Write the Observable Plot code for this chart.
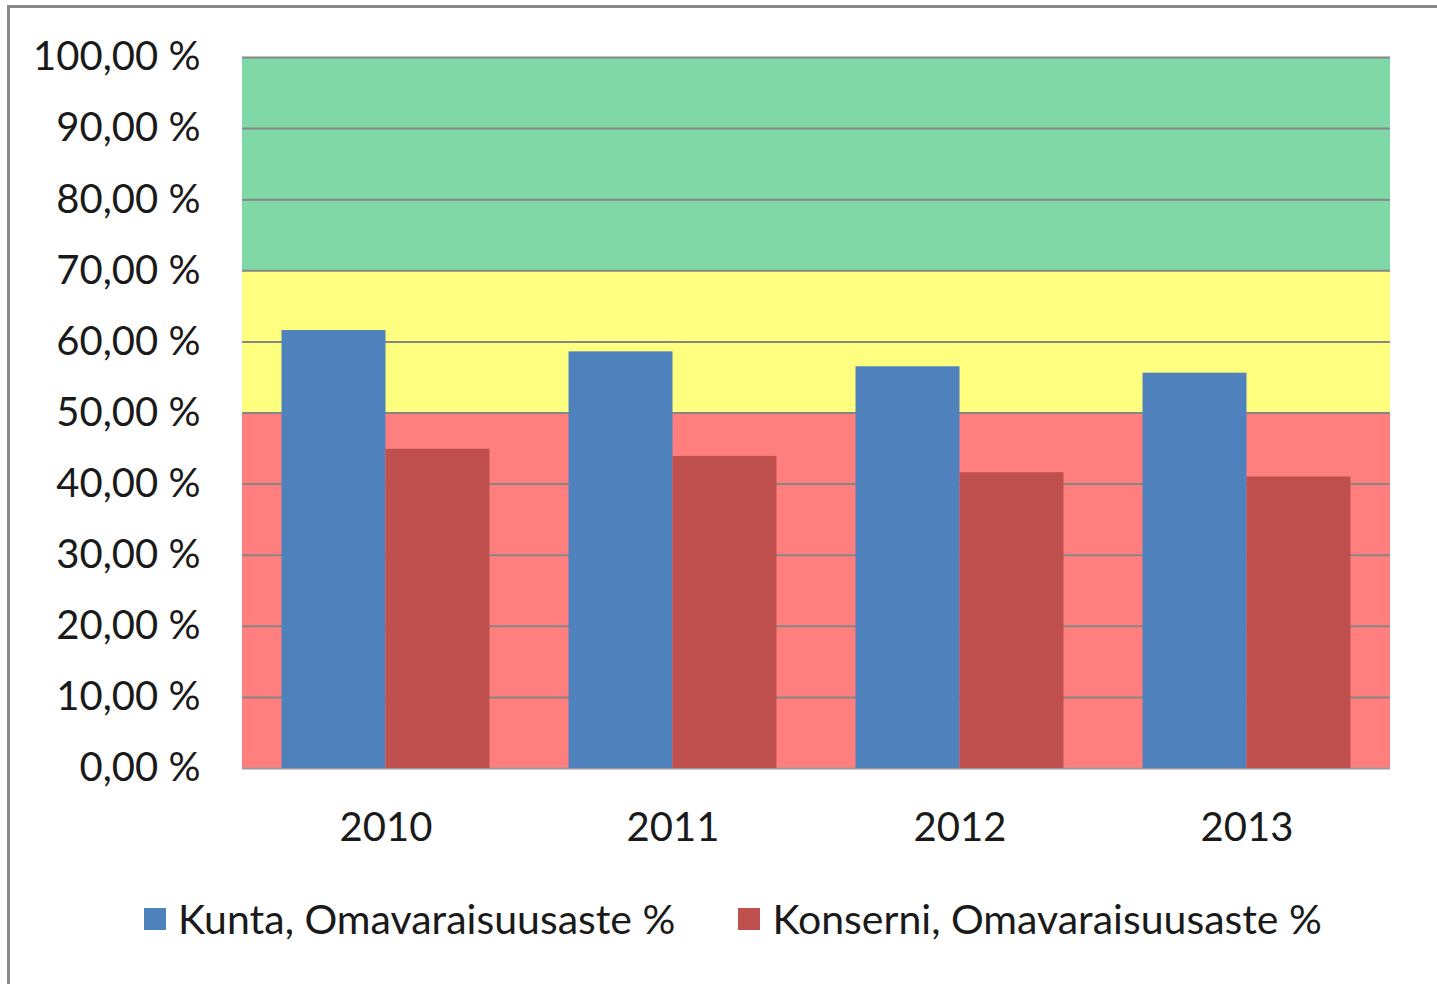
<!DOCTYPE html>
<html>
<head>
<meta charset="utf-8">
<script src="https://cdn.jsdelivr.net/npm/d3@7"></script>
<script src="https://cdn.jsdelivr.net/npm/@observablehq/plot@0.6"></script>
<style>
  html, body { margin: 0; padding: 0; background: #fff; }
  body { width: 1437px; height: 984px; position: relative; overflow: hidden; font-family: Lato, "Open Sans", sans-serif; }
  #frame { position: absolute; left: 7px; top: 5px; right: -10px; bottom: -10px; border-left: 3px solid #888; border-top: 3px solid #888; }
  #chart { position: absolute; left: 0; top: 0; }
  #legend { position: absolute; left: 144px; top: 894px; display: flex; align-items: center; font-size: 41px; color: #1a1a1a; white-space: nowrap; }
  .item { display: flex; align-items: center; margin-right: 63px; }
  .sw { width: 22px; height: 22px; margin-right: 12px; }
</style>
</head>
<body>
<div id="frame"></div>
<div id="chart"></div>
<div id="legend"></div>
<script>
const years = ["2010", "2011", "2012", "2013"];
const seriesNames = ["Kunta, Omavaraisuusaste %", "Konserni, Omavaraisuusaste %"];
const kunta = [61.6, 58.6, 56.5, 55.6];
const konserni = [44.9, 43.9, 41.6, 41.0];
const seriesColors = ["#4F81BD", "#C0504D"];
const yTicks = [0, 10, 20, 30, 40, 50, 60, 70, 80, 90, 100];
const bandLow = [0, 50, 70];
const bandHigh = [50, 70, 100];
const bandColors = ["#FF7F7F", "#FFFF7F", "#80D8A7"];

const rows = [];
years.forEach((y, i) => {
  rows.push({year: y, series: seriesNames[0], value: kunta[i]});
  rows.push({year: y, series: seriesNames[1], value: konserni[i]});
});
const bands = bandLow.map((lo, i) => ({lo, hi: bandHigh[i], color: bandColors[i]}));

const chart = Plot.plot({
  width: 1437,
  height: 870,
  marginLeft: 242,
  marginRight: 47,
  marginTop: 57,
  marginBottom: 102,
  style: {fontFamily: "Lato, 'Open Sans', sans-serif", fontSize: "40px", color: "#1a1a1a", background: "transparent"},
  fx: {domain: years, padding: 0, round: false, axis: "bottom", label: null, tickSize: 0, tickPadding: 44},
  x: {domain: seriesNames, axis: null, paddingInner: 0, paddingOuter: 0.38, round: false},
  y: {domain: [0, 100], ticks: yTicks, tickSize: 0, tickPadding: 42, label: null,
      tickFormat: d => d.toFixed(2).replace(".", ",") + " %"},
  color: {domain: seriesNames, range: seriesColors},
  marks: [
    Plot.rectY(bands, {y1: "lo", y2: "hi", fill: "color", shapeRendering: "crispEdges"}),
    Plot.ruleY(yTicks.filter(d => d > 0), {stroke: "#868686", strokeWidth: 2}),
    Plot.ruleY([0], {stroke: "#9a9a9a", strokeWidth: 2}),
    Plot.barY(rows, {fx: "year", x: "series", y: "value", fill: "series"})
  ]
});
document.getElementById("chart").appendChild(chart);

const legend = document.getElementById("legend");
seriesNames.forEach((name, i) => {
  const item = document.createElement("div");
  item.className = "item";
  const sw = document.createElement("div");
  sw.className = "sw";
  sw.style.background = seriesColors[i];
  const label = document.createElement("span");
  label.textContent = name;
  item.appendChild(sw);
  item.appendChild(label);
  legend.appendChild(item);
});
</script>
</body>
</html>
